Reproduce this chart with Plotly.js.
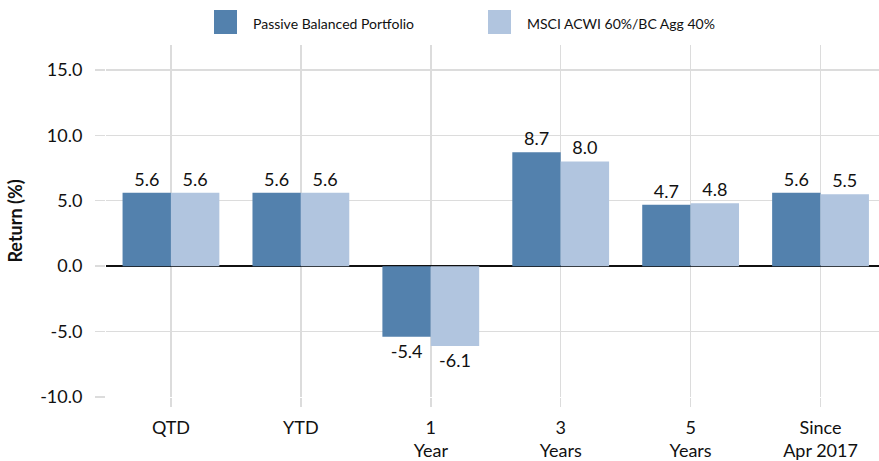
<!DOCTYPE html>
<html>
<head>
<meta charset="utf-8">
<script src="https://cdn.plot.ly/plotly-3.0.1.min.js"></script>
<style>html,body{margin:0;padding:0;background:#fff}#chart{width:879px;height:461px}</style>
</head>
<body>
<div id="chart"></div>
<script>
var categories = ["QTD", "YTD", "1<br>Year", "3<br>Years", "5<br>Years", "Since<br>Apr 2017"];
var seriesNames = ["Passive Balanced Portfolio", "MSCI ACWI 60%/BC Agg 40%"];
var portfolio = [5.6, 5.6, -5.4, 8.7, 4.7, 5.6];
var benchmark = [5.6, 5.6, -6.1, 8.0, 4.8, 5.5];
var yTicks = [-10, -5, 0, 5, 10, 15];
var yTickLabels = ["-10.0", "-5.0", "0.0", "5.0", "10.0", "15.0"];

var colors = ["#5381ad", "#b1c5df"];
var font = "Lato, 'Open Sans', sans-serif";

function mk(vals, i) {
  return {
    type: "bar", x: categories, y: vals, name: seriesNames[i],
    marker: {color: colors[i], line: {width: 0}},
    text: vals.map(function(v){return v.toFixed(1);}),
    textposition: "outside", cliponaxis: false,
    textfont: {family: font, size: 18, color: "#111"},
    hoverinfo: "x+y"
  };
}

var data = [mk(portfolio, 0), mk(benchmark, 1)];

var L = 106, R = 879, T = 45, B = 397, W = 879, H = 461;
function px(x){return (x - L) / (R - L);}
function py(y){return (B - y) / (B - T);}

var layout = {
  width: W, height: H,
  margin: {l: L, r: W - R, t: T, b: H - B, pad: 0},
  paper_bgcolor: "#fff", plot_bgcolor: "#fff",
  showlegend: false,
  barmode: "group", bargap: 0.255, bargroupgap: 0,
  font: {family: font, size: 18, color: "#111"},
  xaxis: {
    type: "category", range: [-0.5, 5.45],
    showgrid: true, gridcolor: "#dcdcdc", gridwidth: 1.5,
    ticks: "outside", ticklen: 9, tickcolor: "#dcdcdc", tickwidth: 1.5,
    showline: false, zeroline: false,
    tickfont: {family: font, size: 18, color: "#111"},
    ticklabelstandoff: 5
  },
  yaxis: {
    range: [-10, 16.9],
    tickvals: yTicks, ticktext: yTickLabels,
    showgrid: true, gridcolor: "#dcdcdc", gridwidth: 1.5,
    ticks: "outside", ticklen: 10, tickcolor: "#dcdcdc", tickwidth: 1.5,
    zeroline: true, zerolinecolor: "#111", zerolinewidth: 2,
    showline: false,
    tickfont: {family: font, size: 18, color: "#111"},
    ticklabelstandoff: 9,
    title: {text: "<b>Return (%)</b>", font: {family: font, size: 18, color: "#111"}, standoff: 12}
  },
  shapes: [
    {type: "rect", xref: "paper", yref: "paper", x0: px(214), x1: px(237), y0: py(34), y1: py(10), fillcolor: colors[0], line: {width: 0}},
    {type: "rect", xref: "paper", yref: "paper", x0: px(488), x1: px(511), y0: py(34), y1: py(10), fillcolor: colors[1], line: {width: 0}}
  ],
  annotations: [
    {xref: "paper", yref: "paper", x: px(251), y: py(23), xanchor: "left", yanchor: "middle", showarrow: false, text: seriesNames[0], font: {family: font, size: 14, color: "#111"}},
    {xref: "paper", yref: "paper", x: px(525), y: py(23), xanchor: "left", yanchor: "middle", showarrow: false, text: seriesNames[1], font: {family: font, size: 14, color: "#111"}}
  ]
};

Plotly.newPlot("chart", data, layout, {displayModeBar: false, staticPlot: true});
</script>
</body>
</html>
